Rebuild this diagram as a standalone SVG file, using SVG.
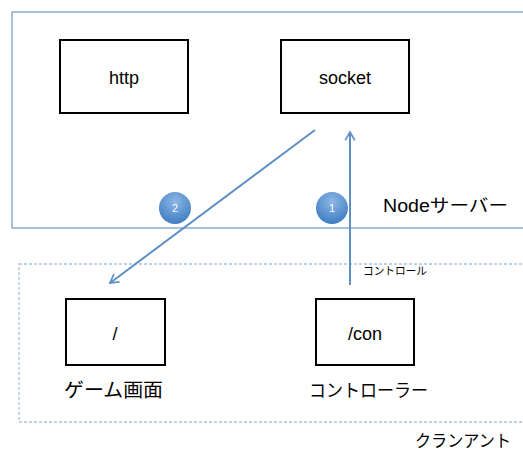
<svg xmlns="http://www.w3.org/2000/svg" width="523" height="451" viewBox="0 0 523 451">
<style>
text{font-family:"Liberation Sans","Noto Sans CJK JP",sans-serif;fill:#000}
.box{fill:#fff;stroke:#000;stroke-width:2}
.conn{stroke:#5e8fc4;stroke-width:2;fill:none}
.num{fill:#fff;font-size:11px;text-anchor:middle}
.lbl{font-size:18px;text-anchor:middle}
</style>
<defs>
<marker id="ah" viewBox="0 0 10 10" refX="8" refY="5" markerWidth="6" markerHeight="6" orient="auto" markerUnits="strokeWidth">
<path d="M1,1 L8,5 L1,9" fill="none" stroke="#5e8fc4" stroke-width="1.4"/>
</marker>
<radialGradient id="bg" cx="50%" cy="30%" r="70%">
<stop offset="0" stop-color="#8db7e6"/>
<stop offset="1" stop-color="#3f7cc2"/>
</radialGradient>
</defs>
<rect width="523" height="451" fill="#fff"/>
<g id="server">
<rect x="12" y="12" width="520" height="216" fill="none" stroke="#a9c1dd" stroke-width="2"/>
<text x="383" y="212" font-size="18" textLength="125" lengthAdjust="spacingAndGlyphs">Nodeサーバー</text>
</g>
<g id="client">
<rect x="19" y="264" width="520" height="158" fill="none" stroke="#a9c1dd" stroke-width="1.3" stroke-dasharray="3,2"/>
<text x="415" y="447" font-size="17" textLength="96" lengthAdjust="spacingAndGlyphs">クランアント</text>
</g>
<g id="http">
<rect class="box" x="60" y="40" width="128" height="73"/>
<text class="lbl" x="124" y="84">http</text>
</g>
<g id="socket">
<rect class="box" x="281" y="40" width="128" height="73"/>
<text class="lbl" x="345" y="84">socket</text>
</g>
<g id="game">
<rect class="box" x="66" y="299" width="99" height="66"/>
<text class="lbl" x="115" y="340">/</text>
<text x="64" y="397" font-size="19" textLength="99" lengthAdjust="spacingAndGlyphs">ゲーム画面</text>
</g>
<g id="controller">
<rect class="box" x="316" y="299" width="98" height="66"/>
<text class="lbl" x="365" y="340">/con</text>
<text x="309" y="397" font-size="18" textLength="119" lengthAdjust="spacingAndGlyphs">コントローラー</text>
</g>
<g id="connectors">
<line class="conn" x1="315" y1="130" x2="110" y2="283" marker-end="url(#ah)"/>
<line class="conn" x1="350" y1="285" x2="350" y2="132" marker-end="url(#ah)"/>
<text x="363" y="275" font-size="11" textLength="64" lengthAdjust="spacingAndGlyphs">コントロール</text>
</g>
<g id="badge2">
<circle cx="175" cy="208" r="16" fill="url(#bg)"/>
<text class="num" x="175" y="212">2</text>
</g>
<g id="badge1">
<circle cx="332" cy="208" r="16" fill="url(#bg)"/>
<text class="num" x="332" y="212">1</text>
</g>
</svg>
